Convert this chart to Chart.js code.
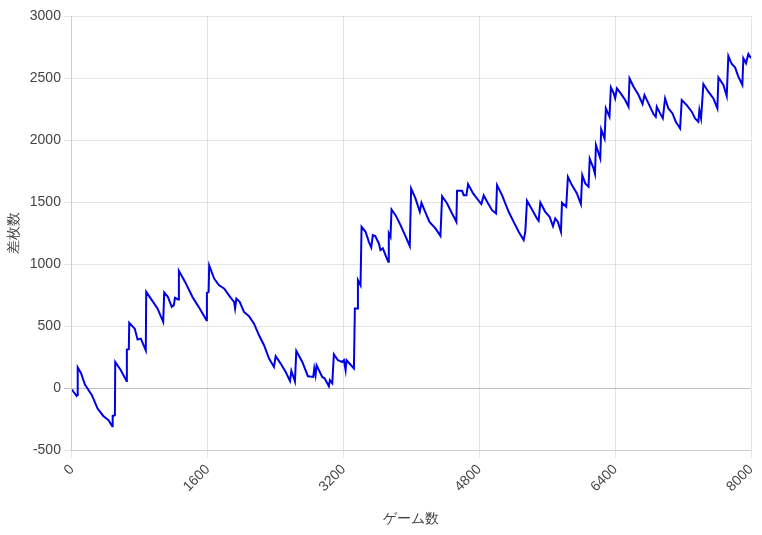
<!DOCTYPE html>
<html>
<head>
<meta charset="utf-8">
<script src="https://cdn.jsdelivr.net/npm/chart.js@4"></script>
<style>
  html, body { margin: 0; padding: 0; background: #fff; }
  #wrap { width: 762px; height: 535px; }
</style>
</head>
<body>
<div id="wrap"><canvas id="graph"></canvas></div>
<script>
// ゲーム数 (x) and 差枚数 (y)
const games = [
  0, 20, 55, 60, 68, 106, 153, 235, 302, 369, 431, 475, 480, 506, 510, 576, 643, 647, 670, 675,
  741, 773, 812, 870, 875, 941, 1008, 1075, 1087, 1130, 1176, 1200, 1214, 1250, 1260, 1333, 1420, 1498, 1585, 1590,
  1610, 1617, 1675, 1733, 1792, 1863, 1910, 1922, 1937, 1976, 2027, 2086, 2145, 2204, 2263, 2322, 2380, 2400, 2459, 2518,
  2569, 2585, 2627, 2643, 2714, 2780, 2843, 2855, 2870, 2882, 2949, 2976, 3027, 3039, 3067, 3086, 3133, 3184, 3204, 3224,
  3235, 3322, 3333, 3360, 3369, 3400, 3412, 3459, 3498, 3526, 3545, 3573, 3616, 3635, 3663, 3694, 3726, 3733, 3753, 3765,
  3812, 3871, 3929, 3980, 3996, 4047, 4098, 4118, 4153, 4212, 4282, 4341, 4361, 4420, 4478, 4510, 4529, 4537, 4596, 4616,
  4647, 4667, 4726, 4792, 4823, 4851, 4898, 4949, 4996, 5008, 5067, 5098, 5145, 5204, 5263, 5322, 5341, 5361, 5420, 5478,
  5498, 5518, 5576, 5627, 5667, 5694, 5725, 5761, 5773, 5823, 5843, 5890, 5949, 5996, 6012, 6047, 6086, 6100, 6145, 6162,
  6173, 6224, 6235, 6275, 6290, 6333, 6349, 6380, 6400, 6420, 6459, 6518, 6557, 6569, 6616, 6675, 6722, 6745, 6792, 6851,
  6878, 6890, 6929, 6961, 6988, 7027, 7075, 7114, 7165, 7184, 7243, 7302, 7341, 7380, 7392, 7412, 7439, 7498, 7557, 7604,
  7616, 7675, 7714, 7733, 7773, 7812, 7851, 7898, 7910, 7941, 7969, 8000
];
const diffs = [
  -10, -30, -62, -55, 167, 123, 30, -56, -164, -223, -258, -306, -223, -218, 212, 145, 59, 312, 315, 527,
  478, 393, 400, 306, 777, 710, 643, 535, 772, 737, 656, 670, 729, 716, 946, 857, 736, 650, 548, 769,
  777, 990, 884, 830, 804, 737, 696, 643, 723, 696, 615, 581, 521, 427, 347, 239, 172, 258, 199, 132,
  59, 140, 56, 301, 212, 97, 91, 160, 105, 185, 91, 80, 16, 65, 40, 274, 226, 212, 226, 145,
  226, 159, 643, 643, 871, 830, 1301, 1261, 1180, 1135, 1234, 1226, 1167, 1113, 1127, 1073, 1019, 1248, 1220, 1441,
  1395, 1315, 1226, 1145, 1610, 1530, 1422, 1495, 1435, 1341, 1288, 1228, 1548, 1489, 1409, 1368, 1341, 1591, 1591, 1556,
  1556, 1645, 1570, 1511, 1484, 1554, 1495, 1435, 1409, 1637, 1556, 1503, 1422, 1341, 1261, 1194, 1261, 1511, 1441, 1368,
  1350, 1497, 1422, 1382, 1306, 1368, 1341, 1261, 1495, 1462, 1704, 1637, 1570, 1484, 1718, 1651, 1624, 1850, 1772, 1728,
  1960, 1852, 2086, 2013, 2255, 2188, 2425, 2382, 2336, 2417, 2382, 2323, 2269, 2497, 2430, 2363, 2290, 2363, 2296, 2210,
  2188, 2269, 2215, 2175, 2336, 2255, 2215, 2148, 2094, 2323, 2282, 2229, 2175, 2148, 2242, 2175, 2452, 2390, 2336, 2255,
  2505, 2444, 2355, 2677, 2613, 2586, 2511, 2444, 2659, 2619, 2694, 2660
];
const xMin = 0, xMax = 8000, xStep = 1600;
const yMin = -500, yMax = 3000, yStep = 500;

const points = games.map((g, i) => ({ x: g, y: diffs[i] }));

Chart.defaults.font.size = 14;
Chart.defaults.color = '#444';

const ctx = document.getElementById('graph').getContext('2d');
new Chart(ctx, {
  type: 'line',
  data: {
    datasets: [{
      label: '差枚数',
      data: points,
      borderColor: 'rgb(0, 0, 230)',
      backgroundColor: 'rgb(0, 0, 230)',
      borderWidth: 2,
      pointRadius: 0,
      tension: 0,
      fill: false
    }]
  },
  options: {
    responsive: true,
    maintainAspectRatio: false,
    animation: false,
    layout: { padding: { top: 16, right: 0, bottom: 3, left: 2 } },
    plugins: {
      legend: { display: false },
      tooltip: { enabled: false }
    },
    scales: {
      x: {
        type: 'linear',
        min: xMin,
        max: xMax,
        afterFit: (scale) => { scale.paddingRight = 11; },
        ticks: {
          stepSize: xStep, minRotation: 45, maxRotation: 45,
          callback: (v) => String(v)
        },
        title: { display: true, text: 'ゲーム数', padding: { top: 13, bottom: 4 } }
      },
      y: {
        min: yMin,
        max: yMax,
        ticks: { stepSize: yStep, callback: (v) => String(v) },
        grid: {
          color: (c) => c.tick && c.tick.value === 0 ? 'rgba(0,0,0,0.25)' : 'rgba(0,0,0,0.1)'
        },
        title: { display: true, text: '差枚数' }
      }
    }
  }
});
</script>
</body>
</html>
